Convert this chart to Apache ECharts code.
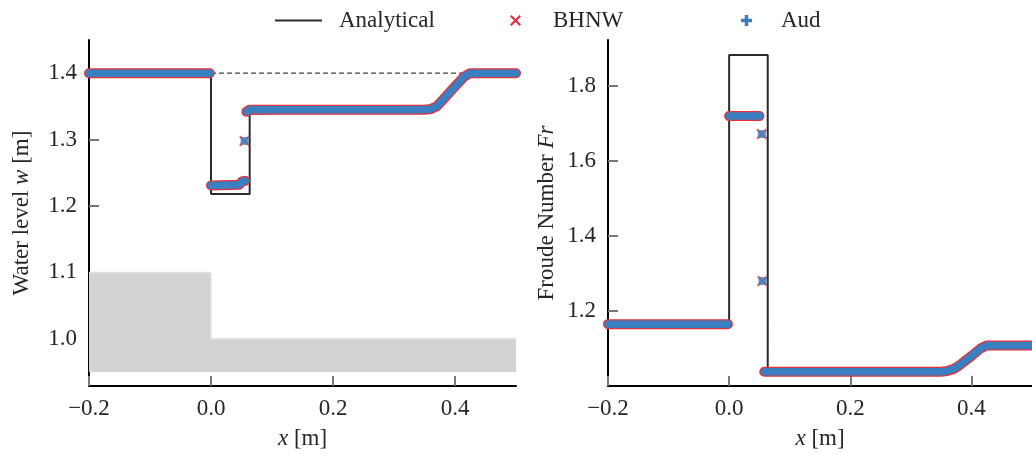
<!DOCTYPE html>
<html>
<head>
<meta charset="utf-8">
<script src="https://cdn.jsdelivr.net/npm/echarts@6/dist/echarts.min.js"></script>
<style>html,body{margin:0;padding:0;background:#fff}#c{width:1032px;height:455px}</style>
</head>
<body>
<div id="c"></div>
<script>
// ---- data ----
const xTicks = [-0.2, 0.0, 0.2, 0.4];
const leftYTicks = [1.0, 1.1, 1.2, 1.3, 1.4];
const rightYTicks = [1.2, 1.4, 1.6, 1.8];

// bed (gray) for water-level panel
const bedX = [-0.2, 0.0, 0.0, 0.5];
const bedY = [1.1, 1.1, 1.0, 1.0];
const bedBottom = 0.95;

// Analytical water level
const anaWX = [-0.2, 0.0, 0.0, 0.0634, 0.0634, 0.36, 0.42, 0.5];
const anaWY = [1.4, 1.4, 1.218, 1.218, 1.339, 1.345, 1.4, 1.4];
// initial level (dashed)
const refWX = [0.0, 0.42];
const refWY = [1.4, 1.4];

// numerical water level (null breaks segments)
const bhnwWX = [-0.2, -0.002, null, 0.0, 0.046, 0.051, 0.056, null, 0.058, 0.063, 0.35, 0.36, 0.37, 0.38, 0.40, 0.415, 0.425, 0.5];
const bhnwWY = [1.4, 1.4, null, 1.231, 1.232, 1.237, 1.238, null, 1.342, 1.345, 1.345, 1.346, 1.350, 1.360, 1.380, 1.395, 1.400, 1.4];
const bhnwWPtX = [0.055];
const bhnwWPtY = [1.298];
const audWX = [-0.2, -0.002, null, 0.0, 0.046, 0.051, 0.056, null, 0.058, 0.063, 0.35, 0.36, 0.37, 0.38, 0.40, 0.415, 0.425, 0.5];
const audWY = [1.4, 1.4, null, 1.231, 1.232, 1.237, 1.238, null, 1.342, 1.345, 1.345, 1.346, 1.350, 1.360, 1.380, 1.395, 1.400, 1.4];
const audWPtX = [0.055];
const audWPtY = [1.298];

// Analytical Froude number
const anaFX = [-0.2, 0.0, 0.0, 0.0637, 0.0637, 0.36, 0.42, 0.5];
const anaFY = [1.165, 1.165, 1.883, 1.883, 1.045, 1.04, 1.108, 1.108];

// numerical Froude number
const bhnwFX = [-0.2, -0.002, null, 0.0, 0.05, null, 0.058, 0.35, 0.36, 0.37, 0.38, 0.40, 0.415, 0.425, 0.5];
const bhnwFY = [1.165, 1.165, null, 1.72, 1.72, null, 1.038, 1.038, 1.040, 1.045, 1.055, 1.080, 1.100, 1.108, 1.108];
const bhnwFPtX = [0.054, 0.055];
const bhnwFPtY = [1.672, 1.28];
const audFX = [-0.2, -0.002, null, 0.0, 0.05, null, 0.058, 0.35, 0.36, 0.37, 0.38, 0.40, 0.415, 0.425, 0.5];
const audFY = [1.165, 1.165, null, 1.72, 1.72, null, 1.038, 1.038, 1.040, 1.045, 1.055, 1.080, 1.100, 1.108, 1.108];
const audFPtX = [0.054, 0.055];
const audFPtY = [1.672, 1.28];

// ---- styling ----
const FONT = 'Liberation Serif';
const FS = 23;
const TXT = '#262626';
const RED = '#e8303a';
const BLUE = '#3a7fbf';
const BLACK = '#2b2b2b';
const XPATH = 'path://M1.4,0L5,3.6L8.6,0L10,1.4L6.4,5L10,8.6L8.6,10L5,6.4L1.4,10L0,8.6L3.6,5L0,1.4Z';
const PPATH = 'path://M3.4,0L6.6,0L6.6,3.4L10,3.4L10,6.6L6.6,6.6L6.6,10L3.4,10L3.4,6.6L0,6.6L0,3.4L3.4,3.4Z';

function zip(xs, ys) { return xs.map((x, i) => [x, ys[i]]); }
const fmt = v => (Math.abs(v) < 1e-9 ? 0 : v).toFixed(1).replace('-', '\u2212');

function xAxis(gi) {
  return {
    type: 'value', gridIndex: gi, min: -0.2, max: 0.5,
    splitLine: { show: false },
    axisLine: { onZero: false, lineStyle: { color: '#000', width: 2 } },
    axisTick: { inside: true, length: 10, lineStyle: { color: '#777', width: 2 }, customValues: xTicks },
    axisLabel: { fontFamily: FONT, fontSize: FS, color: TXT, margin: 11, formatter: fmt, customValues: xTicks },
    name: '{i|x} [m]', nameLocation: 'middle', nameGap: 41,
    nameTextStyle: { fontFamily: FONT, fontSize: FS, color: TXT, rich: { i: { fontFamily: FONT, fontSize: FS, fontStyle: 'italic', color: TXT } } }
  };
}
function yAxis(gi, min, max, ticks, name, gap) {
  return {
    type: 'value', gridIndex: gi, min: min, max: max,
    splitLine: { show: false },
    axisLine: { show: true, onZero: false, lineStyle: { color: '#000', width: 2 } },
    axisTick: { show: true, inside: true, length: 10, lineStyle: { color: '#777', width: 2 }, customValues: ticks },
    axisLabel: { fontFamily: FONT, fontSize: FS, color: TXT, margin: 12, formatter: fmt, customValues: ticks },
    name: name, nameLocation: 'middle', nameGap: gap,
    nameTextStyle: { fontFamily: FONT, fontSize: FS, color: TXT, rich: { i: { fontFamily: FONT, fontSize: FS, fontStyle: 'italic', color: TXT } } }
  };
}
function band(name, gi, xs, ys, color, width, z) {
  return { name: name, type: 'line', xAxisIndex: gi, yAxisIndex: gi, data: zip(xs, ys), showSymbol: false, symbol: 'none',
    connectNulls: false, lineStyle: { color: color, width: width, cap: 'round', join: 'round' }, itemStyle: { color: color }, z: z, silent: true };
}
function pts(name, gi, xs, ys, symbol, color, size, z) {
  return { name: name, type: 'scatter', xAxisIndex: gi, yAxisIndex: gi, data: zip(xs, ys), symbol: symbol, symbolSize: size,
    itemStyle: { color: color }, z: z, silent: true };
}
function legend(left, name, icon, w, h, color, pad) {
  return { left: left, top: 4, selectedMode: false, itemWidth: w, itemHeight: h,
    data: [{ name: name, icon: icon, itemStyle: { color: color } }],
    textStyle: { fontFamily: FONT, fontSize: FS, color: TXT, padding: [0, 0, 0, pad] } };
}

const option = {
  animation: false,
  backgroundColor: '#fff',
  legend: [
    legend(270, 'Analytical', 'rect', 47, 2, BLACK, 12),
    legend(505, 'BHNW', XPATH, 11, 11, RED, 27),
    legend(736, 'Aud', PPATH, 11, 11, BLUE, 24)
  ],
  grid: [
    { left: 89, top: 40, width: 427, height: 346 },
    { left: 608, top: 40, width: 429, height: 346 }
  ],
  xAxis: [xAxis(0), xAxis(1)],
  yAxis: [
    yAxis(0, 0.929, 1.45, leftYTicks, 'Water level {i|w} [m]', 56),
    yAxis(1, 1.0, 1.923, rightYTicks, 'Froude Number {i|Fr}', 50)
  ],
  series: [
    { name: 'bed', type: 'line', xAxisIndex: 0, yAxisIndex: 0, data: zip(bedX, bedY), showSymbol: false, symbol: 'none',
      lineStyle: { color: '#e3e3e3', width: 1.5 }, z: 1, silent: true,
      markArea: { silent: true, itemStyle: { color: '#d1d3d2' }, data: [
        [{ coord: [bedX[0], bedBottom] }, { coord: [bedX[1], bedY[1]] }],
        [{ coord: [bedX[2], bedBottom] }, { coord: [bedX[3], bedY[3]] }]
      ] } },
    { name: 'Analytical', type: 'line', xAxisIndex: 0, yAxisIndex: 0, data: zip(anaWX, anaWY), showSymbol: false, symbol: 'none',
      lineStyle: { color: BLACK, width: 2 }, itemStyle: { color: BLACK }, z: 3, silent: true },
    { name: 'initial', type: 'line', xAxisIndex: 0, yAxisIndex: 0, data: zip(refWX, refWY), showSymbol: false, symbol: 'none',
      lineStyle: { color: '#444', width: 1.3, type: [5, 3] }, z: 3, silent: true },
    band('BHNW', 0, bhnwWX, bhnwWY, RED, 10, 4),
    pts('BHNW', 0, bhnwWPtX, bhnwWPtY, XPATH, RED, 11, 4),
    band('Aud', 0, audWX, audWY, BLUE, 7.5, 5),
    pts('Aud', 0, audWPtX, audWPtY, 'rect', BLUE, 8, 5),

    { name: 'Analytical', type: 'line', xAxisIndex: 1, yAxisIndex: 1, data: zip(anaFX, anaFY), showSymbol: false, symbol: 'none',
      lineStyle: { color: BLACK, width: 2 }, itemStyle: { color: BLACK }, z: 3, silent: true },
    band('BHNW', 1, bhnwFX, bhnwFY, RED, 10, 4),
    pts('BHNW', 1, bhnwFPtX, bhnwFPtY, XPATH, RED, 11, 4),
    band('Aud', 1, audFX, audFY, BLUE, 7.5, 5),
    pts('Aud', 1, audFPtX, audFPtY, 'rect', BLUE, 8, 5)
  ]
};
echarts.init(document.getElementById('c'), null, { renderer: 'canvas' }).setOption(option);
</script>
</body>
</html>
